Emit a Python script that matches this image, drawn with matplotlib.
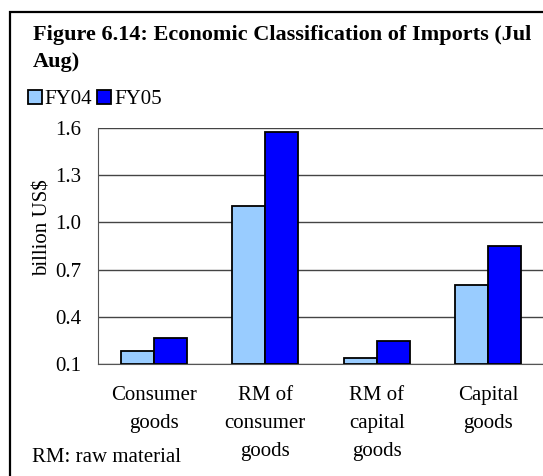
import matplotlib
matplotlib.use("Agg")
import matplotlib.pyplot as plt
from matplotlib.patches import Rectangle
import numpy as np

# 数据
categories = ["Consumer\ngoods", "RM of\nconsumer\ngoods", "RM of\ncapital\ngoods", "Capital\ngoods"]
fy04 = [0.185, 1.105, 0.138, 0.602]
fy05 = [0.267, 1.573, 0.246, 0.850]
yticks = [0.1, 0.4, 0.7, 1.0, 1.3, 1.6]

plt.rcParams['font.family'] = ['Liberation Serif', 'DejaVu Serif']
W, H = 543, 476
fig = plt.figure(figsize=(W / 100, H / 100), dpi=100)

# 外框
fig.patches.append(Rectangle((10 / W, -0.1), 1.2, 1 - 12 / H + 0.1, transform=fig.transFigure,
                             fill=False, edgecolor='black', linewidth=1.6))

ax = fig.add_axes([98 / W, 1 - 364 / H, 446 / W, 236 / H])
x = np.arange(len(categories))
w = 0.296
ax.bar(x - w / 2, np.array(fy04) - 0.1, w, bottom=0.1, color='#99CCFF', edgecolor='black', linewidth=1.3, label='FY04', zorder=3)
ax.bar(x + w / 2, np.array(fy05) - 0.1, w, bottom=0.1, color='#0000FF', edgecolor='black', linewidth=1.3, label='FY05', zorder=3)

ax.set_xlim(-0.5, len(categories) - 0.5)
ax.set_ylim(0.1, 1.6)
ax.set_yticks(yticks)
ax.set_yticklabels(["%.1f" % v for v in yticks], fontsize=15)
ax.set_xticks(x)
ax.set_xticklabels(categories, fontsize=15, linespacing=1.62)
ax.tick_params(axis='both', length=0)
ax.tick_params(axis='y', pad=12)
ax.tick_params(axis='x', pad=16)
ax.grid(axis='y', color='#444444', linewidth=1.0, zorder=0)
for s in ['top', 'right']:
    ax.spines[s].set_visible(False)
ax.spines['left'].set_color('#555555')
ax.spines['bottom'].set_color('#555555')
ax.set_ylabel('billion US$', fontsize=15)
ax.yaxis.set_label_coords(-45 / 446, (364 - 228) / 236)

# 标题
fig.text(33 / W, 1 - 40 / H, "Figure 6.14: Economic Classification of Imports (Jul",
         fontsize=16, fontweight='bold', va='baseline', ha='left')
fig.text(33 / W, 1 - 67 / H, "Aug)", fontsize=16, fontweight='bold', va='baseline', ha='left')

fig.legend(loc='upper left', bbox_to_anchor=(28 / W, 1 - 90 / H), ncol=2, frameon=False,
           fontsize=15, handlelength=0.65, handleheight=0.65, handletextpad=0.15,
           columnspacing=0.25, borderaxespad=0, borderpad=0)

fig.text(32 / W, 1 - 457 / H, "RM: raw material", fontsize=15, va='center', ha='left')

fig.savefig("out.png", dpi=100)
